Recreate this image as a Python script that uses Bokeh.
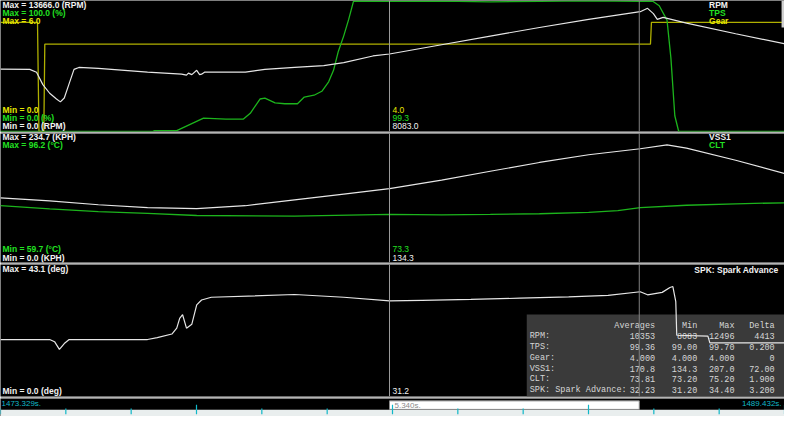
import numpy as np
from bokeh.plotting import figure
from bokeh.models import Range1d, Span
from bokeh.layouts import column
from bokeh.core.properties import value
from bokeh.embed import file_html
from bokeh.resources import INLINE

# ---------------- data ----------------
T0 = 1473.329
T1 = 1489.432
cursor_t = 7.99          # seconds after T0
sel_end_t = 13.12        # seconds after T0
sel_label = "5.340s."

# RPM (seconds after T0, rpm)
rpm_t = [0.00, 0.60, 0.74, 0.87, 1.01, 1.15, 1.23, 1.31, 1.41, 1.51, 1.61, 2.01, 3.02, 3.72, 3.82,
         3.86, 3.93, 4.03, 4.09, 4.13, 4.19, 5.03, 5.43, 6.04, 6.64, 7.05, 7.65, 7.99, 9.06, 10.06,
         11.07, 12.08, 13.14, 13.29, 13.41, 13.49, 13.61, 14.09, 15.10, 16.10]
rpm_v = [6510, 6480, 6185, 4890, 3990, 3390, 3090, 3490, 4990, 6480, 6680, 6580, 6185, 5985, 5885,
         6085, 5935, 6385, 5935, 5985, 6185, 6185, 6480, 6680, 6880, 7180, 7880, 8083, 9050, 9950,
         10850, 11700, 12496, 12850, 12300, 11700, 11900, 11300, 10200, 9150]

# TPS (%)
tps_t = [0.00, 3.12, 3.16, 3.62, 4.17, 4.63, 4.99, 5.13, 5.33, 5.43, 5.64, 5.84, 6.10, 6.24, 6.44,
         6.60, 6.74, 6.84, 6.94, 7.05, 7.15, 7.25, 7.29, 7.99, 9.06, 10.06, 11.07, 12.08, 13.14,
         13.39, 13.53, 13.69, 13.77, 13.85, 13.93, 16.10]
tps_v = [0, 0, 0.6, 0.7, 10.2, 9.5, 9.5, 13.9, 24.8, 25.5, 21.9, 21.2, 21.2, 26.3, 27.7,
         30.7, 37.9, 46.7, 61.3, 73.0, 85.4, 99.3, 99.6, 99.3, 99.5, 99.0, 99.4, 99.7, 99.3,
         99.6, 96, 85, 56, 12, 0, 0]

# Gear
gear_t = [0.00, 0.76, 0.79, 0.89, 0.91, 13.35, 13.37, 16.10]
gear_v = [5, 5, 0, 0, 4, 4, 5, 5]

# VSS1 (KPH)
vss_t = [0.00, 1.01, 2.01, 3.02, 4.03, 5.03, 6.04, 7.05, 7.99, 9.06, 10.06, 11.07, 12.08, 13.14,
         13.69, 14.09, 15.10, 16.10]
vss_v = [117.4, 112.1, 105.1, 99.8, 98.1, 103.3, 113.8, 124.4, 134.3, 150, 166, 182, 196, 207.0,
         214, 208, 186, 162]

# CLT (deg C)
clt_t = [0.00, 1.01, 2.01, 3.02, 4.03, 6.04, 7.99, 9.06, 10.06, 11.07, 12.08, 12.68, 13.14,
         14.09, 15.10, 16.10]
clt_v = [75.8, 74.9, 74.1, 73.6, 73.0, 72.8, 73.3, 73.2, 73.3, 73.5, 73.9, 74.4, 75.2,
         75.9, 76.3, 76.6]

# SPK: Spark Advance (deg)
spk_t = [0.00, 1.01, 1.11, 1.21, 1.31, 1.41, 3.02, 3.22, 3.52, 3.62, 3.68, 3.74, 3.82, 3.93,
         4.03, 4.13, 4.33, 6.04, 7.05, 7.99, 8.66, 9.66, 10.67, 11.67, 12.48, 13.14, 13.29,
         13.59, 13.75, 13.81, 13.87, 13.89, 14.53, 14.57, 16.10]
spk_v = [18.6, 18.6, 17.9, 15.4, 17.3, 18.6, 18.6, 19.2, 20.4, 22.3, 25.5, 26.7, 22.3, 23.6,
         29.9, 31.5, 32.4, 33.3, 32.4, 31.2, 31.4, 31.7, 32.1, 32.5, 33.0, 34.2, 33.2,
         34.0, 35.6, 35.9, 31.0, 20.0, 19.7, 17.5, 17.5]

# axis extents per channel
rpm_range = (0.0, 13666.0)
tps_range = (0.0, 100.0)
gear_range = (0.0, 6.0)
vss_range = (0.0, 234.7)
clt_range = (59.7, 96.2)
spk_range = (0.0, 43.1)

# cursor readouts
top_cursor = ["4.0", "99.3", "8083.0"]
mid_cursor = ["73.3", "134.3"]
bot_cursor = ["31.2"]

# statistics table
stat_header = ["Averages", "Min", "Max", "Delta"]
stat_names = ["RPM:", "TPS:", "Gear:", "VSS1:", "CLT:", "SPK: Spark Advance:"]
stat_avg = ["10353", "99.36", "4.000", "170.8", "73.81", "32.23"]
stat_min = ["8083", "99.00", "4.000", "134.3", "73.20", "31.20"]
stat_max = ["12496", "99.70", "4.000", "207.0", "75.20", "34.40"]
stat_delta = ["4413", "0.200", "0", "72.00", "1.900", "3.200"]

# ---------------- styling ----------------
WHITE_T = "#f2f2f2"
WHITE_L = "#e6e6e6"
GREEN_T = "#22e022"
GREEN_L = "#1cb41c"
YELLOW_T = "#e6e600"
YELLOW_L = "#b0b000"
SEP = "#b4b4b4"
CUR = "#9a9a9a"
CYAN = "#10b8c8"
W = 784

xr = Range1d(T0, T1)


def ts(a):
    return [T0 + v for v in a]


def panel(h, px_bottom, px_top, yr, border=2):
    p = figure(width=W, height=h, x_range=xr, y_range=Range1d(*yr),
               x_axis_type=None, y_axis_type=None, title=None,
               output_backend="svg", toolbar_location=None,
               min_border_left=0, min_border_right=0, min_border_top=0,
               min_border_bottom=border, border_fill_color=SEP,
               background_fill_color="black", outline_line_color=None)
    p.grid.visible = False
    p.extra_x_ranges = {"px": Range1d(0, 800)}
    p.extra_y_ranges = {"px": Range1d(px_bottom, px_top)}
    return p


def txt(p, xs, ys, texts, color, size="8.5px", bold=True, align="left",
        font="Liberation Sans"):
    p.text(x=xs, y=ys, text=texts, text_color=color, text_font=value(font),
           text_font_size=size, text_font_style="bold" if bold else "normal",
           text_align=align, text_baseline="middle",
           x_range_name="px", y_range_name="px")


def cursors(p):
    p.add_layout(Span(location=T0 + cursor_t, dimension="height",
                      line_color=CUR, line_width=1))
    p.add_layout(Span(location=T0 + sel_end_t, dimension="height",
                      line_color="#808080", line_width=1))


# ---------------- top panel: RPM / TPS / Gear ----------------
p1 = panel(133, 136, 0, rpm_range)
p1.extra_y_ranges["tps"] = Range1d(*tps_range)
p1.extra_y_ranges["gear"] = Range1d(*gear_range)
cursors(p1)
p1.line(ts(gear_t), gear_v, line_color=YELLOW_L, line_width=1.3, y_range_name="gear")
p1.line(ts(tps_t), tps_v, line_color=GREEN_L, line_width=1.3, y_range_name="tps")
p1.line(ts(rpm_t), rpm_v, line_color=WHITE_L, line_width=1.2)
p1.quad(left=[797], right=[800], top=[0], bottom=[28], fill_color="#d0d0d0",
        line_color=None, x_range_name="px", y_range_name="px")
txt(p1, [2], [5], [f"Max = {rpm_range[1]:.1f} (RPM)"], WHITE_T)
txt(p1, [2], [13], [f"Max = {tps_range[1]:.1f} (%)"], GREEN_T)
txt(p1, [2], [21], [f"Max = {gear_range[1]:.1f}"], YELLOW_T)
txt(p1, [2], [114], [f"Min = {gear_range[0]:.1f}"], YELLOW_T)
txt(p1, [2], [122], [f"Min = {tps_range[0]:.1f} (%)"], GREEN_T)
txt(p1, [2], [130], [f"Min = {rpm_range[0]:.1f} (RPM)"], WHITE_T)
txt(p1, [723], [5], ["RPM"], WHITE_T)
txt(p1, [723], [13], ["TPS"], GREEN_T)
txt(p1, [723], [21], ["Gear"], YELLOW_T)
txt(p1, [400], [114], [top_cursor[0]], YELLOW_T, bold=False)
txt(p1, [400], [122], [top_cursor[1]], GREEN_T, bold=False)
txt(p1, [400], [130], [top_cursor[2]], WHITE_T, bold=False)

# ---------------- middle panel: VSS1 / CLT ----------------
p2 = panel(131, 272, 138, vss_range)
p2.extra_y_ranges["clt"] = Range1d(*clt_range)
cursors(p2)
p2.line(ts(clt_t), clt_v, line_color=GREEN_L, line_width=1.3, y_range_name="clt")
p2.line(ts(vss_t), vss_v, line_color=WHITE_L, line_width=1.2)
txt(p2, [2], [142], [f"Max = {vss_range[1]:.1f} (KPH)"], WHITE_T)
txt(p2, [2], [150], [f"Max = {clt_range[1]:.1f} (\u00b0C)"], GREEN_T)
txt(p2, [2], [258], [f"Min = {clt_range[0]:.1f} (\u00b0C)"], GREEN_T)
txt(p2, [2], [267], [f"Min = {vss_range[0]:.1f} (KPH)"], WHITE_T)
txt(p2, [723], [142], ["VSS1"], WHITE_T)
txt(p2, [723], [150], ["CLT"], GREEN_T)
txt(p2, [400], [258], [mid_cursor[0]], GREEN_T, bold=False)
txt(p2, [400], [267], [mid_cursor[1]], WHITE_T, bold=False)

# ---------------- bottom panel: SPK + stats table ----------------
p3 = panel(134, 411, 274, spk_range)
p3.quad(left=[537], right=[800], top=[326], bottom=[411], fill_color="#3a3a3a",
        line_color=None, x_range_name="px", y_range_name="px")
row_y = [337.5, 348.7, 359.9, 371.0, 382.0, 393.0, 404.5]
MONO = "Liberation Mono"
TBL = "#d6d6d6"
txt(p3, [668, 711, 749, 790], [row_y[0]] * 4, stat_header, TBL, size="8.5px",
    bold=False, align="right", font=MONO)
txt(p3, [540] * 6, row_y[1:], stat_names, TBL, size="8.5px", bold=False, font=MONO)
txt(p3, [668] * 6, row_y[1:], stat_avg, TBL, size="8.5px", bold=False, align="right", font=MONO)
txt(p3, [711] * 6, row_y[1:], stat_min, TBL, size="8.5px", bold=False, align="right", font=MONO)
txt(p3, [749] * 6, row_y[1:], stat_max, TBL, size="8.5px", bold=False, align="right", font=MONO)
txt(p3, [790] * 6, row_y[1:], stat_delta, TBL, size="8.5px", bold=False, align="right", font=MONO)
cursors(p3)
p3.line(ts(spk_t), spk_v, line_color=WHITE_L, line_width=1.2)
txt(p3, [2], [279], [f"Max = {spk_range[1]:.1f} (deg)"], WHITE_T)
txt(p3, [2], [405], [f"Min = {spk_range[0]:.1f} (deg)"], WHITE_T)
txt(p3, [708], [280], ["SPK: Spark Advance"], WHITE_T)
txt(p3, [400], [405], [bot_cursor[0]], WHITE_T, bold=False)

# ---------------- time strip ----------------
p4 = figure(width=W, height=18, x_range=xr, y_range=Range1d(432, 413),
            x_axis_type=None, y_axis_type=None, title=None,
            output_backend="svg", toolbar_location=None,
            min_border_left=0, min_border_right=0, min_border_top=0, min_border_bottom=0,
            background_fill_color="black", border_fill_color="black",
            outline_line_color=None)
p4.grid.visible = False
p4.extra_x_ranges = {"px": Range1d(0, 800)}
p4.extra_y_ranges = {"px": Range1d(432, 413)}
p4.quad(left=[0], right=[800], top=[425], bottom=[432], fill_color="#e9eeee",
        line_color=None, x_range_name="px", y_range_name="px")
p4.quad(left=[T0 + cursor_t], right=[T0 + sel_end_t], top=[415.5], bottom=[424.5],
        fill_color="white", line_color="#8a8a8a", line_width=1)
txt(p4, [402], [420], [sel_label], "#8a8a8a", size="8px", bold=False)
txt(p4, [1], [418], [f"{T0:.3f}s."], CYAN, size="8px", bold=False)
txt(p4, [797], [418], [f"{T1:.3f}s."], CYAN, size="8px", bold=False, align="right")
ticks = T0 + np.arange(13) * (T1 - T0) / 12.0
tall = (np.arange(13) % 3 == 0) & (np.arange(13) > 0)
p4.segment(x0=ticks, x1=ticks, y0=np.where(tall, 419.5, 423.5), y1=np.full(13, 429.5),
           line_color=CYAN, line_width=1.2)

layout = column(p1, p2, p3, p4, spacing=0)
open("out.html", "w").write(file_html(layout, INLINE))
